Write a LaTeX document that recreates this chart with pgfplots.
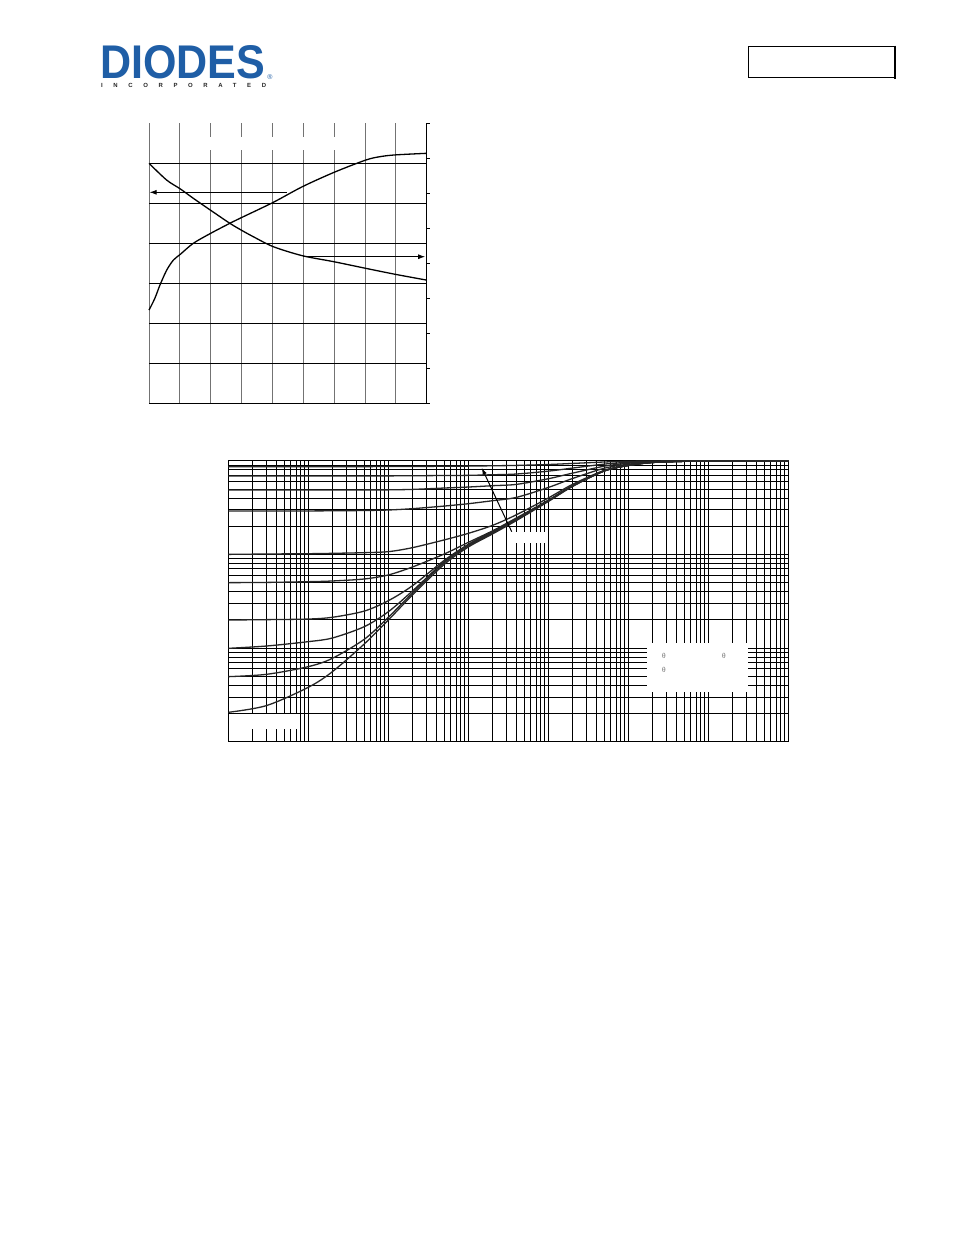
\documentclass[border=0pt]{standalone}
\usepackage{pgfplots}
\pgfplotsset{compat=1.18}
\usepackage{pgfplotstable}
\usepackage{fontspec}
\usepackage{graphicx}
\usetikzlibrary{arrows.meta}
\setmainfont{Liberation Sans}
\newfontfamily\serif{Liberation Serif}
\newfontfamily\spaced[LetterSpace=178]{Liberation Sans Bold}
\definecolor{diodesblue}{RGB}{31,94,166}

\pgfplotstableread{
t      c1    c2    c3     c4     c5     c6     c7     c8     c9      c10
1e-5   0.863 0.686 0.4864 0.290  0.1    0.0499 0.01992 0.00993 0.00495 0.00206
3e-5   0.863 0.686 0.4864 0.290  0.1009 0.0502 0.0201 0.01051 0.00524 0.00243
1e-4   0.863 0.686 0.4866 0.291  0.1017 0.0511 0.0204 0.0117  0.00633 0.00381
2e-4   0.864 0.687 0.487  0.292  0.1026 0.0520 0.0213 0.0128  0.00777 0.00559
5e-4   0.865 0.688 0.488  0.294  0.1043 0.0546 0.0248 0.0169  0.01239 0.01104
1e-3   0.866 0.689 0.4886 0.2977 0.1069 0.0603 0.0320 0.0244  0.02128 0.0199
2e-3   0.868 0.691 0.494  0.3076 0.1179 0.0733 0.0462 0.0406  0.03864 0.0368
5e-3   0.872 0.695 0.511  0.328  0.1427 0.1009 0.0863 0.0836  0.08147 0.0782
1e-2   0.876 0.698 0.5236 0.3475 0.1677 0.1343 0.128  0.126   0.1228  0.1198
2e-2   0.883 0.708 0.541  0.374  0.2037 0.178  0.175  0.172   0.169   0.165
4e-2   0.891 0.721 0.559  0.406  0.265  0.245  0.240  0.238   0.235   0.2299
0.1    0.911 0.774 0.642  0.518  0.400  0.379  0.376  0.374   0.371   0.367
0.2    0.935 0.834 0.736  0.645  0.558  0.541  0.538  0.536   0.534   0.530
0.5    0.969 0.920 0.874  0.831  0.789  0.780  0.779  0.778   0.778   0.776
1      0.986 0.962 0.940  0.918  0.896  0.892  0.891  0.890   0.890   0.889
2      0.994 0.985 0.976  0.967  0.959  0.958  0.958  0.958   0.958   0.957
5      0.998 0.995 0.992  0.989  0.986  0.986  0.986  0.986   0.986   0.985
10     1.0   1.0   0.999  0.999  0.998  0.998  0.998  0.998   0.998   0.998
100    1.0   1.0   1.0    1.0    1.0    1.0    1.0    1.0     1.0     1.0
}\transient

\begin{document}
\begin{tikzpicture}
\fill[white] (0,0) rectangle (954bp,-1235bp);
\useasboundingbox (0,0) rectangle (954bp,-1235bp);

% ---- logo ----
\node[anchor=north west, inner sep=0pt, text=diodesblue] at (100bp,-45bp)
  {\resizebox{165bp}{33bp}{\bfseries DIODES}};
\node[anchor=west, inner sep=0pt, text=black!85] at (100.9bp,-85bp)
  {\spaced\fontsize{6}{6}\selectfont INCORPORATED};
\node[inner sep=0pt, text=diodesblue] at (270bp,-77.5bp) {\fontsize{7}{7}\selectfont ®};

% ---- box top right ----
\draw[line width=1.2bp] (748.3bp,-46.3bp) rectangle (895bp,-77.7bp);
\draw[line width=2.2bp] (895bp,-45.5bp) -- (895bp,-78.5bp);

% ---- top chart ----
\begin{axis}[
  at={(149bp,-403.3bp)}, anchor=south west, scale only axis,
  width=277.7bp, height=280bp,
  xmin=0, xmax=9, ymin=0, ymax=7,
  xtick={0,...,9}, ytick={1,...,6},
  xticklabels={}, yticklabels={},
  major tick length=0pt,
  grid=major,
  x grid style={draw=black!55, line width=0.9bp},
  y grid style={draw=black, line width=0.9bp},
  axis line style={draw=none},
  clip=false,
]
\draw[black, line width=1bp] (axis cs:0,0) -- (axis cs:9,0);
\addplot[black, line width=1.3bp, smooth] coordinates {
 (0,6.0) (0.574,5.58) (1.015,5.36) (1.436,5.125) (1.99,4.83) (2.62,4.5)
 (2.99,4.33) (3.38,4.165) (4.03,3.915) (4.97,3.69) (5.99,3.54) (7.02,3.375)
 (7.98,3.225) (9.0,3.08)};
\addplot[black, line width=1.3bp, smooth] coordinates {
 (0,2.33) (0.19,2.625) (0.357,2.96) (0.574,3.33) (0.79,3.58) (1.015,3.725)
 (1.436,4.0) (2.0,4.25) (2.62,4.5) (2.99,4.64) (4.03,5.025) (4.97,5.415)
 (6.0,5.775) (7.02,6.08) (7.48,6.165) (7.98,6.21) (9.0,6.25)};
\addplot[black, line width=0.9bp, -{Latex[length=7bp,width=5bp]}] coordinates {(4.46,5.275) (0.02,5.275)};
\addplot[black, line width=0.9bp, -{Latex[length=7bp,width=5bp]}] coordinates {(5.0,3.665) (8.95,3.665)};
\end{axis}
\begin{axis}[
  at={(149bp,-403.3bp)}, anchor=south west, scale only axis,
  width=277.7bp, height=280bp,
  xmin=0, xmax=9, ymin=0, ymax=8,
  axis x line=none, axis y line*=right,
  ytick={0,...,8}, yticklabels={},
  tick align=outside, major tick length=3bp,
  tick style={black, line width=0.9bp},
  axis line style={black, line width=1bp, -},
]
\addplot[draw=none] coordinates {(0,0)};
\end{axis}
\fill[white] (196bp,-136.7bp) rectangle (349bp,-150bp);

% ---- bottom chart ----
\begin{axis}[
  at={(228.3bp,-741.7bp)}, anchor=south west, scale only axis,
  width=560bp, height=281bp,
  xmode=log, ymode=log,
  xmin=1e-5, xmax=100, ymin=0.001, ymax=1,
  xtick={1e-5,1e-4,1e-3,1e-2,1e-1,1,10,100},
  ytick={1e-3,1e-2,1e-1,1},
  xticklabels={}, yticklabels={},
  major tick length=0pt, minor tick length=0pt,
  grid=both,
  major grid style={black, line width=0.8bp},
  minor grid style={black, line width=0.8bp},
  axis line style={black, line width=1bp},
]
\foreach \c in {c1,c2,c3,c4,c5,c6,c7,c8,c9,c10} {
  \addplot[black!85, line width=1.3bp, smooth] table[x=t, y=\c] {\transient};
}
\end{axis}
% areas where labels sat
\fill[white] (250bp,-714bp) rectangle (298bp,-729bp);
\fill[white] (512.5bp,-532bp) rectangle (545bp,-543bp);
\fill[white] (646.7bp,-643.3bp) rectangle (748.3bp,-692.3bp);
\draw[black, line width=1bp, -{Latex[length=7bp,width=4.5bp]}] (511.7bp,-531.7bp) -- (481.7bp,-467.7bp);
\node[inner sep=0pt, text=black!60] at (664bp,-655.5bp) {\serif\fontsize{7.5}{7.5}\selectfont θ};
\node[inner sep=0pt, text=black!60] at (724bp,-655.5bp) {\serif\fontsize{7.5}{7.5}\selectfont θ};
\node[inner sep=0pt, text=black!60] at (664bp,-669.5bp) {\serif\fontsize{7.5}{7.5}\selectfont θ};
\end{tikzpicture}
\end{document}
